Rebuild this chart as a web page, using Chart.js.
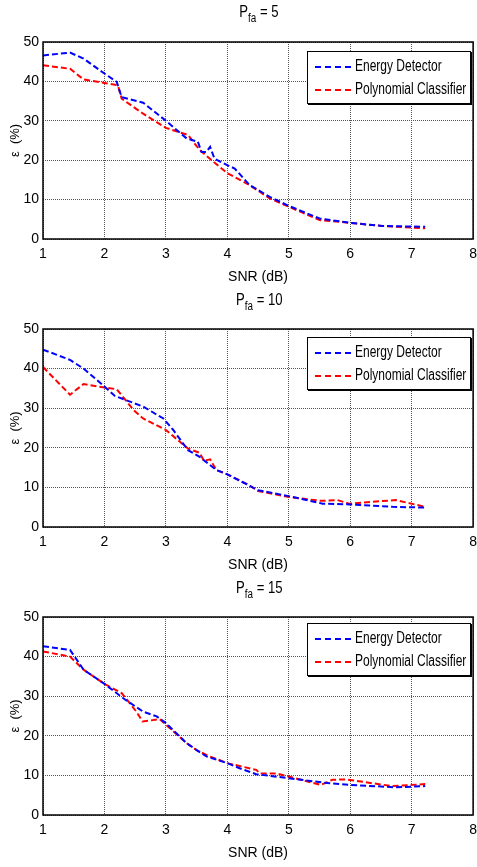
<!DOCTYPE html>
<html>
<head>
<meta charset="utf-8">
<script src="https://cdn.jsdelivr.net/npm/chart.js@4.4.1/dist/chart.umd.min.js"></script>
<style>
  body { margin: 0; background: #fff; width: 477px; height: 867px; overflow: hidden; position: relative; font-family: 'Liberation Sans', Arial, sans-serif; }
  .panel { position: absolute; left: 0; width: 484px; height: 290px; }
  .panel canvas { position: absolute; left: 0; top: 0; }
  .ttl { position: absolute; left: 0; width: 518px; top: 3px; text-align: center; font-size: 16px; color: #000; }
  .ttl b { display: inline-block; font-weight: normal; transform: scaleX(0.82); }
  .ttl sub { font-size: 12px; vertical-align: -5px; }
  .leg { position: absolute; left: 307px; width: 162px; height: 51px; background: #fff; border: 1px solid #000; box-shadow: 1px 1px 0 #000; font-size: 16px; }
  .leg div { position: absolute; left: 7px; height: 20px; line-height: 20px; white-space: nowrap; }
  .leg span { display: inline-block; width: 36px; border-top: 2px dashed; vertical-align: middle; margin-right: 4px; }
  .leg i { display: inline-block; font-style: normal; transform: scaleX(0.75); transform-origin: left center; }
</style>
</head>
<body>

<div class="panel" style="top:0px"><canvas id="c1" width="484" height="290"></canvas>
  <div class="ttl"><b>P<sub>fa</sub> = 5</b></div>
  <div class="leg" style="top:51px"><div style="top:4px"><span style="color:#0000ff"></span><i>Energy Detector</i></div><div style="top:27px"><span style="color:#ff0000"></span><i>Polynomial Classifier</i></div></div>
</div>
<div class="panel" style="top:288px"><canvas id="c2" width="484" height="290"></canvas>
  <div class="ttl"><b>P<sub>fa</sub> = 10</b></div>
  <div class="leg" style="top:49px"><div style="top:4px"><span style="color:#0000ff"></span><i>Energy Detector</i></div><div style="top:27px"><span style="color:#ff0000"></span><i>Polynomial Classifier</i></div></div>
</div>
<div class="panel" style="top:576px"><canvas id="c3" width="484" height="290"></canvas>
  <div class="ttl"><b>P<sub>fa</sub> = 15</b></div>
  <div class="leg" style="top:47px"><div style="top:4px"><span style="color:#0000ff"></span><i>Energy Detector</i></div><div style="top:27px"><span style="color:#ff0000"></span><i>Polynomial Classifier</i></div></div>
</div>

<script>
// Pfa = 5
let snrED1 = [1, 1.44, 1.66, 2, 2.2, 2.28, 2.63, 3, 3.34, 3.52, 3.58, 3.66, 3.72, 3.79, 3.99, 4.12, 4.36, 4.69, 5, 5.5, 6, 6.52, 7.22];
let errED1 = [46.6, 47.3, 45.8, 42, 39.9, 36, 34.6, 30, 25.5, 24.7, 22.1, 22.1, 23.4, 20.4, 18.8, 17.9, 13.7, 10.7, 8.4, 5.2, 4.1, 3.3, 3.1];
let snrPC1 = [1, 1.44, 1.66, 2, 2.22, 2.28, 2.63, 3, 3.36, 3.55, 3.76, 3.99, 4.36, 4.69, 5, 5.5, 6, 6.52, 7.22];
let errPC1 = [44.1, 43.2, 40.5, 39.6, 39.0, 35.6, 31.8, 28.2, 26.4, 22.6, 19.8, 16.8, 13.7, 10.3, 8.2, 4.8, 4.1, 3.3, 2.7];

// Pfa = 10
let snrED2 = [1, 1.44, 1.66, 2, 2.17, 2.63, 2.96, 3.12, 3.36, 3.55, 3.69, 3.82, 4, 4.31, 4.5, 5, 5.55, 6, 6.69, 7.22];
let errED2 = [44.8, 42.2, 40, 35.5, 33.1, 30.4, 27.4, 24.5, 19.4, 17.7, 16.0, 14.4, 13.3, 10.8, 9.3, 7.8, 5.9, 5.7, 5.1, 4.9];
let snrPC2 = [1, 1.44, 1.66, 2, 2.2, 2.47, 2.63, 3, 3.36, 3.55, 3.62, 3.72, 3.82, 4, 4.34, 4.5, 5, 5.52, 5.79, 5.98, 6.74, 7.22];
let errPC2 = [40.4, 33.4, 36.1, 35.2, 34.8, 29.6, 27.4, 24.5, 19.8, 18.75, 16.7, 17.1, 14.4, 13.3, 10.7, 9.1, 7.6, 6.6, 6.8, 5.9, 6.8, 5.1];

// Pfa = 15
let snrED3 = [1, 1.44, 1.66, 2, 2.34, 2.63, 2.85, 3, 3.34, 3.5, 3.66, 4, 4.2, 4.47, 5, 5.55, 6, 6.74, 7.22];
let errED3 = [42.6, 41.7, 36.7, 33.1, 29.1, 26.1, 24.9, 23.2, 18.1, 16.4, 14.8, 13.1, 11.8, 10.3, 9.3, 8.2, 7.6, 7.0, 7.3];
let snrPC3 = [1, 1.44, 1.66, 2, 2.28, 2.52, 2.62, 2.9, 3, 3.34, 3.5, 3.71, 4, 4.47, 4.53, 4.8, 5, 5.52, 5.71, 5.93, 6.68, 7.22];
let errPC3 = [41.3, 40, 36.7, 33.1, 30.8, 26.1, 23.6, 24.2, 22.8, 18.1, 16.4, 14.8, 13.1, 11.4, 10.5, 10.5, 9.7, 7.6, 8.9, 9.0, 7.3, 7.8];

let xTicks = [1, 2, 3, 4, 5, 6, 7, 8];
let yTicks = [0, 10, 20, 30, 40, 50];

const fontFamily = "'Liberation Sans', Arial, sans-serif";

function pts(xs, ys) {
    return xs.map((x, i) => ({ x: x, y: ys[i] }));
}

// black box round the plot area, like matlab
const frame = {
    id: 'frame',
    afterDraw(chart) {
        const { ctx, chartArea: a } = chart;
        ctx.save();
        ctx.strokeStyle = '#000';
        ctx.lineWidth = 1.5;
        ctx.strokeRect(a.left, a.top, a.right - a.left, a.bottom - a.top);
        ctx.restore();
    }
};

function makeChart(id, edX, edY, pcX, pcY, padTop) {
    new Chart(document.getElementById(id).getContext('2d'), {
        type: 'line',
        data: {
            datasets: [{
                label: 'Energy Detector',
                data: pts(edX, edY),
                borderColor: '#0000ff',
                borderWidth: 2,
                borderDash: [6, 3],
                pointRadius: 0,
                fill: false
            }, {
                label: 'Polynomial Classifier',
                data: pts(pcX, pcY),
                borderColor: '#ff0000',
                borderWidth: 2,
                borderDash: [6, 3],
                pointRadius: 0,
                fill: false
            }]
        },
        options: {
            responsive: false,
            animation: false,
            layout: { padding: { top: padTop, right: 9, left: 0, bottom: 0 } },
            scales: {
                x: {
                    type: 'linear',
                    min: 1, max: 8,
                    afterBuildTicks: s => { s.ticks = xTicks.map(v => ({ value: v })); },
                    afterFit: s => { s.height = 51; },
                    grid: { color: '#555', drawTicks: false, lineWidth: 1 },
                    border: { display: false, dash: [1, 1] },
                    ticks: { color: '#000', padding: 7, font: { family: fontFamily, size: 14 } },
                    title: { display: true, text: 'SNR (dB)', color: '#000', padding: { top: 2, bottom: 4 }, font: { family: fontFamily, size: 14 } }
                },
                y: {
                    min: 0, max: 50,
                    afterBuildTicks: s => { s.ticks = yTicks.map(v => ({ value: v })); },
                    afterFit: s => { s.width = 43; },
                    grid: { color: '#555', drawTicks: false, lineWidth: 1 },
                    border: { display: false, dash: [1, 1] },
                    ticks: { color: '#000', padding: 4, font: { family: fontFamily, size: 14 } },
                    title: { display: true, text: 'ε  (%)', color: '#000', padding: { top: 8, bottom: 0 }, font: { family: fontFamily, size: 13 } }
                }
            },
            plugins: {
                legend: { display: false },
                tooltip: { enabled: false }
            }
        },
        plugins: [frame]
    });
}

makeChart('c1', snrED1, errED1, snrPC1, errPC1, 42);
makeChart('c2', snrED2, errED2, snrPC2, errPC2, 41);
makeChart('c3', snrED3, errED3, snrPC3, errPC3, 41);
</script>
</body>
</html>
